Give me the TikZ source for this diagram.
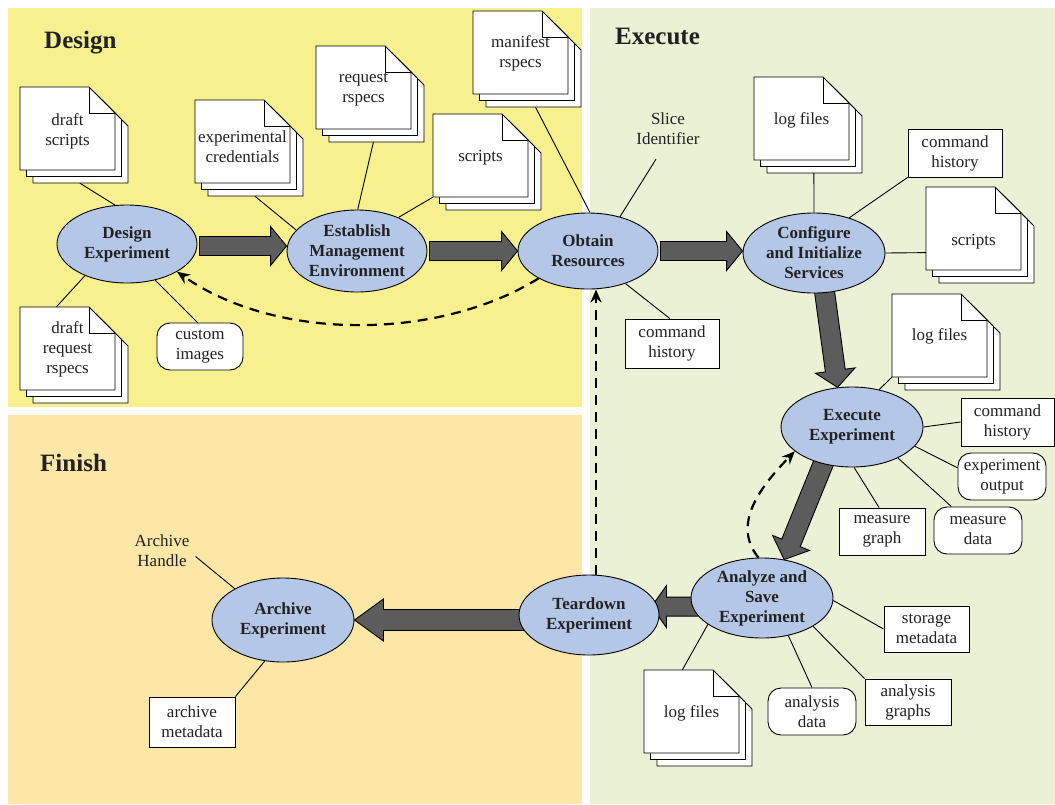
\documentclass[tikz,border=0pt]{standalone}
\usepackage{fontspec}
\setmainfont{Liberation Serif}
\usetikzlibrary{shapes.geometric,arrows.meta,calc}

\definecolor{designbg}{HTML}{F6F18E}
\definecolor{executebg}{HTML}{EBF1D4}
\definecolor{finishbg}{HTML}{FDE7A7}
\definecolor{phasefill}{HTML}{B4C7E7}
\definecolor{flowgray}{HTML}{5C5C5C}
\definecolor{inkgray}{HTML}{222222}

\pgfdeclarelayer{panels}
\pgfdeclarelayer{wires}
\pgfsetlayers{panels,wires,main}

\tikzset{
  txt/.style={font=\fontsize{17}{20}\selectfont, align=center, inner sep=0pt, text=inkgray},
  phase/.style={ellipse, draw, line width=0.9pt, fill=phasefill, inner sep=-4pt,
    align=center, font=\fontsize{17}{20}\selectfont\bfseries, text=inkgray},
  box/.style={draw, line width=0.9pt, fill=white, txt},
  rbox/.style={box, rounded corners=13pt},
  title/.style={font=\fontsize{25}{30}\selectfont\bfseries, inner sep=0pt, anchor=base west, text=inkgray},
  page/.style={draw, line width=0.9pt, fill=white, line join=miter},
  stackarea/.style={inner sep=0pt, minimum width=108pt, minimum height=96pt},
  link/.style={line width=0.9pt},
  flow/.style={draw=black, line width=0.9pt, fill=flowgray, line join=miter},
  loopback/.style={line width=2.2pt, dash pattern=on 10pt off 7pt,
    -{Stealth[length=13pt,width=11pt]}},
}

% stack of three pages with a folded corner
% #1 name, #2 left, #3 top of front page, #4 text, #5 text offset
\newcommand\docstack[5]{%
  \foreach \o in {13,6.5,0}{
    \filldraw[page] ({#2+\o},{#3+\o}) -- ({#2+69+\o},{#3+\o}) -- ({#2+95+\o},{#3+26+\o})
      -- ({#2+95+\o},{#3+83+\o}) -- ({#2+\o},{#3+83+\o}) -- cycle;
  }
  \draw[page, fill=none] ({#2+69},{#3}) -- ({#2+69},{#3+26}) -- ({#2+95},{#3+26});
  \node[stackarea] (#1) at ({#2+54},{#3+48}) {};
  \node[txt] (#1-text) at ({#2+47.5},{#3+41.5+#5}) {#4};
}

% thick block arrow: #1 tail, #2 tip, #3 head length, #4 half shaft, #5 half head
\newcommand\flowarrow[5]{%
  \coordinate (fa-base) at ($(#2)!#3!(#1)$);
  \filldraw[flow] ($(#1)!#4!90:(#2)$) -- ($(fa-base)!#4!90:(#2)$)
    -- ($(fa-base)!#5!90:(#2)$) -- (#2) -- ($(fa-base)!#5!-90:(#2)$)
    -- ($(fa-base)!#4!-90:(#2)$) -- ($(#1)!#4!-90:(#2)$) -- cycle;
}

\begin{document}
\begin{tikzpicture}[x=1pt, y=-1pt]
\useasboundingbox (0,0) rectangle (1055,804);

\begin{pgfonlayer}{panels}
  \fill[white] (0,0) rectangle (1055,804);
  \fill[designbg] (8,8) rectangle (582,407);
  \fill[executebg] (590,8) rectangle (1055,804);
  \fill[finishbg] (8,415) rectangle (582,804);
\end{pgfonlayer}

\node[title] (t-design) at (44,48) {Design};
\node[title] (t-execute) at (615,44) {Execute};
\node[title] (t-finish) at (40,471) {Finish};

% phases
\node[phase, minimum width=140pt, minimum height=78pt] (de) at (127,244) {Design\\Experiment};
\node[phase, minimum width=140pt, minimum height=82pt] (em) at (357,251) {Establish\\Management\\Environment};
\node[phase, minimum width=140pt, minimum height=76pt] (or) at (588,251) {Obtain\\Resources};
\node[phase, minimum width=142pt, minimum height=80pt] (cf) at (814,253) {Configure\\and Initialize\\Services};
\node[phase, minimum width=142pt, minimum height=80pt] (ex) at (852,427) {Execute\\Experiment};
\node[phase, minimum width=142pt, minimum height=80pt] (an) at (762,598) {Analyze and\\Save\\Experiment};
\node[phase, minimum width=140pt, minimum height=80pt] (td) at (589,615) {Teardown\\Experiment};
\node[phase, minimum width=142pt, minimum height=84pt] (ar) at (283,620) {Archive\\Experiment};

% document stacks
\docstack{ds}{20}{87}{draft\\scripts}{3}
\docstack{cred}{195}{100}{experimental\\credentials}{5}
\docstack{rr}{316}{46}{request\\rspecs}{2}
\docstack{sc1}{433}{114}{scripts}{2}
\docstack{mr}{473}{11}{manifest\\rspecs}{1}
\docstack{drs}{20}{307}{draft\\request\\rspecs}{1}
\docstack{lf1}{754}{77}{log files}{2}
\docstack{sc2}{926}{187}{scripts}{13}
\docstack{lf2}{892}{294}{log files}{1}
\docstack{lf3}{644}{670}{log files}{2}

% boxes
\node[rbox, minimum width=86pt, minimum height=47pt] (ci) at (200,346.5) {custom\\images};
\node[box, minimum width=94pt, minimum height=49pt] (ch1) at (672,343.5) {command\\history};
\node[box, minimum width=94pt, minimum height=48pt] (ch2) at (955,153) {command\\history};
\node[box, minimum width=93pt, minimum height=48pt] (ch3) at (1007.5,422) {command\\history};
\node[rbox, minimum width=88pt, minimum height=47pt] (eo) at (1002,476.5) {experiment\\output};
\node[rbox, minimum width=88pt, minimum height=47pt] (md) at (978,530.5) {measure\\data};
\node[box, minimum width=86pt, minimum height=47pt] (mg) at (882,531.5) {measure\\graph};
\node[box, minimum width=85pt, minimum height=46pt] (sm) at (926.5,629) {storage\\metadata};
\node[box, minimum width=86pt, minimum height=46pt] (ag) at (908,702) {analysis\\graphs};
\node[rbox, minimum width=88pt, minimum height=47pt] (ad) at (812,711.5) {analysis\\data};
\node[box, minimum width=86pt, minimum height=50pt] (am) at (192,722) {archive\\metadata};

% free labels
\node[txt] (sid) at (668,129) {Slice\\Identifier};
\node[txt] (ah) at (162,550.5) {Archive\\Handle};

\begin{pgfonlayer}{wires}
  % associations
  \draw[link] (ds.277) -- (de.107);
  \draw[link] (drs.110) -- (de.217);
  \draw[link] (ci.96) -- (de.308);
  \draw[link] (cred.277) -- (em.161);
  \draw[link] (rr.274) -- (em.89);
  \draw[link] (sc1.213) -- (em.39);
  \draw[link] (mr.280) -- (or.87);
  \draw[link] ([xshift=-12pt,yshift=-14pt]sid.south) -- (or.47);
  \draw[link] (ch1.95) -- (or.319);
  \draw[link] (lf1.277) -- (cf.90);
  \draw[link] (ch2.south west) -- (cf.45);
  \draw[link] (sc2.198) -- (cf.0);
  \draw[link] (lf2.213) -- (ex.54);
  \draw[link] (ch3.west) -- (ex.east);
  \draw[link] (eo.169) -- (ex.343);
  \draw[link] (md.138) -- (ex.326);
  \draw[link] (mg.97) -- (ex.273);
  \draw[link] (sm.west) -- (an.358);
  \draw[link] (ag.north west) -- (an.331);
  \draw[link] (ad.north) -- (an.305);
  \draw[link] (lf3.108) -- (an.206);
  \draw[link] (am.north east) -- (ar.246);
  \draw[link] ([xshift=6pt,yshift=-6pt]ah.east) -- (ar.147);

  % main flow
  \coordinate (f1a) at ([xshift=2pt,yshift=-2pt]de.east);
  \coordinate (f1b) at (em.west |- f1a);
  \flowarrow{f1a}{f1b}{16pt}{9.5pt}{19.5pt}
  \coordinate (f2a) at ([xshift=2pt]em.east);
  \flowarrow{f2a}{or.west}{16pt}{9.5pt}{19.5pt}
  \coordinate (f3a) at ([xshift=2pt]or.east);
  \coordinate (f3b) at (cf.west |- f3a);
  \flowarrow{f3a}{f3b}{16pt}{9.5pt}{19.5pt}
  \coordinate (f4a) at ($(cf.285)!-6pt!(ex.110)$);
  \flowarrow{f4a}{ex.110}{17pt}{10pt}{20pt}
  \coordinate (f5a) at ($(ex.232)!-6pt!(an.60)$);
  \flowarrow{f5a}{an.60}{18pt}{10pt}{20pt}
  \coordinate (f6x) at ([xshift=-8pt]td.east);
  \coordinate (f6b) at (f6x |- an.187);
  \coordinate (f6a) at ($(an.187)!-6pt!(f6b)$);
  \flowarrow{f6a}{f6b}{15pt}{9.5pt}{21pt}
  \coordinate (f7a) at (td.west |- ar.east);
  \coordinate (f7t) at ($(f7a)!-6pt!(ar.east)$);
  \flowarrow{f7t}{ar.east}{29pt}{10.5pt}{21pt}
\end{pgfonlayer}

% loops back
\draw[loopback] (or.209) .. controls +(-100,62) and +(100,70) .. (de.331);
\draw[loopback] ([xshift=7pt]td.north) -- ([xshift=8pt]or.south);
\draw[loopback] (an.95) .. controls +(-27,-33) and +(-35,36) .. (ex.203);

\end{tikzpicture}
\end{document}
